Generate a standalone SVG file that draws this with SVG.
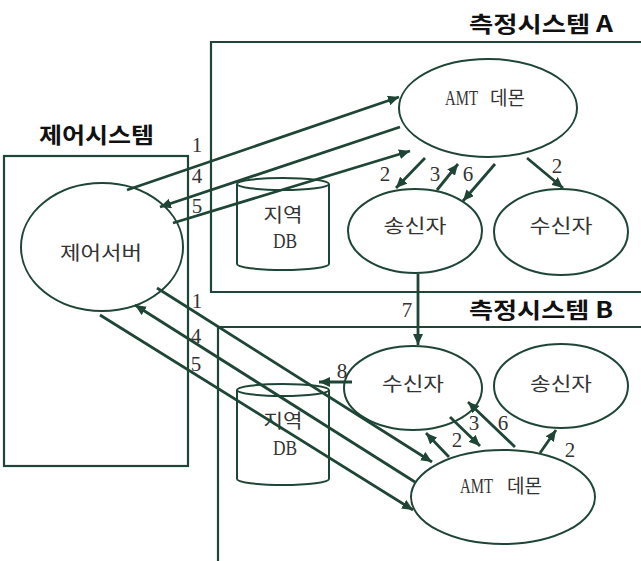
<svg xmlns="http://www.w3.org/2000/svg" width="641" height="561" viewBox="0 0 641 561">
<style>
.box{fill:none;stroke:#1e4535;stroke-width:2.2}
.node{fill:#fff;stroke:#1e4535;stroke-width:2}
.db{fill:#fff;stroke:#1e4535;stroke-width:2}
.c{fill:none;stroke:#1e4535;stroke-width:2.8;marker-end:url(#ah)}
.title{font-family:"Noto Sans CJK KR","Liberation Sans",sans-serif;font-weight:bold;font-size:22px;fill:#111}
.lbl{font-family:"Liberation Serif","Noto Sans CJK KR",serif;font-size:21px;fill:#333;text-anchor:middle}
.t{font-family:"Liberation Serif","Noto Sans CJK KR",serif;font-size:19px;fill:#333;text-anchor:middle}
.ts{font-family:"Noto Sans CJK KR",sans-serif;font-size:19px;fill:#333}
.lat{font-family:"Liberation Serif",serif;font-size:22px;fill:#333}
</style>
<defs>
<marker id="ah" markerUnits="userSpaceOnUse" markerWidth="12" markerHeight="10" refX="11" refY="5" orient="auto">
<path d="M0,0 L11,5 L0,10 z" fill="#1e4535"/>
</marker>
</defs>

<g id="control-system">
<rect class="box" x="4" y="156" width="184" height="310"/>
<text class="title" x="39" y="143" textLength="115" lengthAdjust="spacingAndGlyphs">제어시스템</text>
</g>
<g id="measure-system-a">
<path class="box" d="M641,42 H211 V292 H641"/>
<text class="title" x="469" y="32" textLength="144" lengthAdjust="spacingAndGlyphs">측정시스템 A</text>
</g>
<g id="measure-system-b">
<path class="box" d="M641,327 H218 V561"/>
<text class="title" x="469" y="318" textLength="144" lengthAdjust="spacingAndGlyphs">측정시스템 B</text>
</g>

<g id="control-server">
<ellipse class="node" cx="102" cy="247" rx="81" ry="64"/>
<text class="t" x="101" y="260" textLength="82" lengthAdjust="spacingAndGlyphs">제어서버</text>
</g>

<g id="db-a">
<path class="db" d="M237,184 V264 A46,6 0 0 0 329,264 V184"/>
<ellipse class="db" cx="283" cy="184" rx="46" ry="6"/>
<text class="t" x="283" y="222" textLength="39" lengthAdjust="spacingAndGlyphs">지역</text>
<text class="lat" font-size="20" transform="translate(273,248) scale(0.79,1)">DB</text>
</g>
<g id="amt-a">
<ellipse class="node" cx="488" cy="108" rx="89" ry="49"/>
<text class="lat" transform="translate(445,105) scale(0.675,1)">AMT</text>
<text class="ts" x="490" y="105">데몬</text>
</g>
<g id="sender-a">
<ellipse class="node" cx="415" cy="231" rx="67" ry="42"/>
<text class="t" x="415" y="233" textLength="63" lengthAdjust="spacingAndGlyphs">송신자</text>
</g>
<g id="receiver-a">
<ellipse class="node" cx="561" cy="232" rx="67" ry="43"/>
<text class="t" x="561" y="233" textLength="63" lengthAdjust="spacingAndGlyphs">수신자</text>
</g>

<g id="db-b">
<path class="db" d="M237,390 V479 A46,6 0 0 0 329,479 V390"/>
<ellipse class="db" cx="283" cy="390" rx="46" ry="6"/>
<text class="t" x="283" y="428" textLength="39" lengthAdjust="spacingAndGlyphs">지역</text>
<text class="lat" font-size="20" transform="translate(273,455) scale(0.79,1)">DB</text>
</g>
<g id="receiver-b">
<ellipse class="node" cx="413" cy="388" rx="69" ry="42"/>
<text class="t" x="413" y="391" textLength="62" lengthAdjust="spacingAndGlyphs">수신자</text>
</g>
<g id="sender-b">
<ellipse class="node" cx="561" cy="386" rx="67" ry="42"/>
<text class="t" x="561" y="391" textLength="62" lengthAdjust="spacingAndGlyphs">송신자</text>
</g>
<g id="amt-b">
<ellipse class="node" cx="503" cy="497" rx="92" ry="47"/>
<text class="lat" transform="translate(460,493) scale(0.675,1)">AMT</text>
<text class="ts" x="507" y="493">데몬</text>
</g>

<g id="connectors">
<line class="c" x1="127" y1="190" x2="399" y2="97"/>
<line class="c" x1="400" y1="127" x2="160" y2="207"/>
<line class="c" x1="173" y1="223" x2="410" y2="151"/>
<line class="c" x1="425" y1="158" x2="396" y2="188"/>
<line class="c" x1="437" y1="190" x2="458" y2="164"/>
<line class="c" x1="495" y1="164" x2="463" y2="201"/>
<line class="c" x1="527" y1="158" x2="563" y2="188"/>
<line class="c" x1="418" y1="274" x2="418" y2="345"/>
<line class="c" x1="352" y1="382" x2="319" y2="382"/>
<line class="c" x1="157" y1="288" x2="432" y2="462"/>
<line class="c" x1="415" y1="482" x2="135" y2="305"/>
<line class="c" x1="100" y1="315" x2="413" y2="510"/>
<line class="c" x1="449" y1="457" x2="426" y2="433"/>
<line class="c" x1="450" y1="417" x2="480" y2="446"/>
<line class="c" x1="515" y1="447" x2="468" y2="402"/>
<line class="c" x1="540" y1="453" x2="556" y2="430"/>
<text class="lbl" x="197" y="152">1</text>
<text class="lbl" x="197" y="183">4</text>
<text class="lbl" x="197" y="213">5</text>
<text class="lbl" x="385" y="181">2</text>
<text class="lbl" x="435" y="181">3</text>
<text class="lbl" x="468" y="181">6</text>
<text class="lbl" x="557" y="173">2</text>
<text class="lbl" x="407" y="317">7</text>
<text class="lbl" x="342" y="378">8</text>
<text class="lbl" x="197" y="308">1</text>
<text class="lbl" x="196" y="343">4</text>
<text class="lbl" x="196" y="371">5</text>
<text class="lbl" x="457" y="447">2</text>
<text class="lbl" x="474" y="430">3</text>
<text class="lbl" x="503" y="430">6</text>
<text class="lbl" x="570" y="457">2</text>
</g>
</svg>
